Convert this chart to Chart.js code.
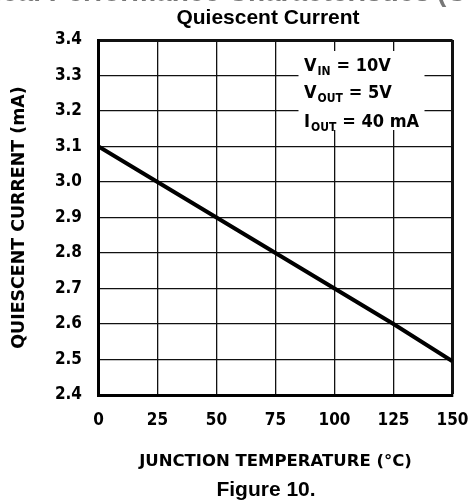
<!DOCTYPE html>
<html>
<head>
<meta charset="utf-8">
<script src="https://cdn.jsdelivr.net/npm/chart.js@4.4.0/dist/chart.umd.min.js"></script>
<style>
  html, body { margin: 0; padding: 0; background: #fff; }
  canvas { display: block; }
</style>
</head>
<body>
<canvas id="myChart" width="471" height="502"></canvas>
<script>
(function(){
    "use strict";

    // values
    var temps = [0, 25, 50, 75, 100, 125, 150];
    var current = [3.10, 3.00, 2.90, 2.80, 2.70, 2.60, 2.495];
    var xTicks = [0, 25, 50, 75, 100, 125, 150];
    var yTicks = [2.4, 2.5, 2.6, 2.7, 2.8, 2.9, 3.0, 3.1, 3.2, 3.3, 3.4];
    var conditions = [
        ['V', 'IN', '= 10V'],
        ['V', 'OUT', '= 5V'],
        ['I', 'OUT', '= 40 mA']
    ];

    var condensed = "'DejaVu Sans Condensed', sans-serif";
    var wide = "'DejaVu Sans', sans-serif";
    var arial = "'Liberation Sans', Arial, sans-serif";

    var extras = {
        id: 'extras',
        afterDraw: function(chart){
            var ctx = chart.ctx;
            var area = chart.chartArea;
            ctx.save();
            // heading cut off at the top of the page
            ctx.fillStyle = '#777';
            ctx.font = "bold 28px " + arial;
            ctx.textBaseline = 'alphabetic';
            ctx.textAlign = 'right';
            ctx.fillText('Typical Performance Characteristics', 430, 0.5);
            ctx.textAlign = 'left';
            ctx.fillText('(Continued)', 437, 0.5);

            // chart title and figure caption
            ctx.fillStyle = '#000';
            ctx.textAlign = 'center';
            ctx.textBaseline = 'middle';
            ctx.font = "bold 21px " + arial;
            ctx.fillText('Quiescent Current', 268, 18.5);
            ctx.fillText('Figure 10.', 266, 490.5);

            // test conditions box
            ctx.textAlign = 'left';
            ctx.textBaseline = 'alphabetic';
            ctx.fillStyle = '#fff';
            ctx.fillRect(area.left + 200, area.top + 11, 126, 79);
            ctx.fillStyle = '#000';
            var x0 = area.left + 205.5;
            var base = [area.top + 31, area.top + 58, area.top + 87];
            conditions.forEach(function(row, i){
                var x = x0;
                ctx.font = "bold 18px " + condensed;
                ctx.fillText(row[0], x, base[i]);
                x += ctx.measureText(row[0]).width + 1;
                ctx.font = "bold 12px " + condensed;
                ctx.fillText(row[1], x, base[i] + 4);
                x += ctx.measureText(row[1]).width + 6;
                ctx.font = "bold 18px " + condensed;
                ctx.fillText(row[2], x, base[i]);
            });
            ctx.restore();
        }
    };

    var edgeWidth = function(last){
        return function(c){ return c.index === last ? 3 : 1.3; };
    };

    var ctx = document.getElementById('myChart').getContext('2d');
    var myChart = new Chart(ctx, {
        type: 'line',
        data: {
            labels: temps,
            datasets: [{
                data: temps.map(function(t, i){ return {x: t, y: current[i]}; }),
                borderColor: '#000',
                borderWidth: 4,
                pointRadius: 0,
                tension: 0,
                fill: false
            }]
        },
        options: {
            responsive: false,
            animation: false,
            events: [],
            layout: { padding: { left: 0, right: 18.5, top: 40, bottom: 0 } },
            plugins: {
                legend: { display: false },
                tooltip: { enabled: false }
            },
            scales: {
                x: {
                    type: 'linear',
                    min: 0,
                    max: 150,
                    afterBuildTicks: function(s){ s.ticks = xTicks.map(function(v){ return {value: v}; }); },
                    afterFit: function(s){ s.height = 107; s.paddingLeft = 0; s.paddingRight = 0; },
                    ticks: {
                        color: '#000',
                        padding: 15.5,
                        maxRotation: 0,
                        font: { family: condensed, size: 17, weight: 'bold', lineHeight: 1.2 },
                        callback: function(v){ return String(v); }
                    },
                    grid: { color: '#111', lineWidth: edgeWidth(xTicks.length - 1), drawTicks: false },
                    border: { color: '#000', width: 3 },
                    title: {
                        display: true,
                        text: 'JUNCTION TEMPERATURE (\u00B0C)',
                        color: '#000',
                        font: { family: wide, size: 16.5, weight: 'bold', lineHeight: 1.2 },
                        padding: { top: 0, bottom: 30.6 }
                    }
                },
                y: {
                    min: 2.4,
                    max: 3.4,
                    afterBuildTicks: function(s){ s.ticks = yTicks.map(function(v){ return {value: v}; }); },
                    afterFit: function(s){ s.width = 98.5; s.paddingTop = 0; s.paddingBottom = 0; },
                    ticks: {
                        color: '#000',
                        padding: 16.5,
                        font: { family: condensed, size: 17, weight: 'bold', lineHeight: 1.2 },
                        callback: function(v){ return v.toFixed(1); }
                    },
                    grid: { color: '#111', lineWidth: edgeWidth(yTicks.length - 1), drawTicks: false },
                    border: { color: '#000', width: 3 },
                    title: {
                        display: true,
                        text: 'QUIESCENT CURRENT (mA)',
                        color: '#000',
                        font: { family: wide, size: 17.4, weight: 'bold', lineHeight: 1.2 },
                        padding: { top: 8.6, bottom: 0 }
                    }
                }
            }
        },
        plugins: [extras]
    });
})();
</script>
</body>
</html>
